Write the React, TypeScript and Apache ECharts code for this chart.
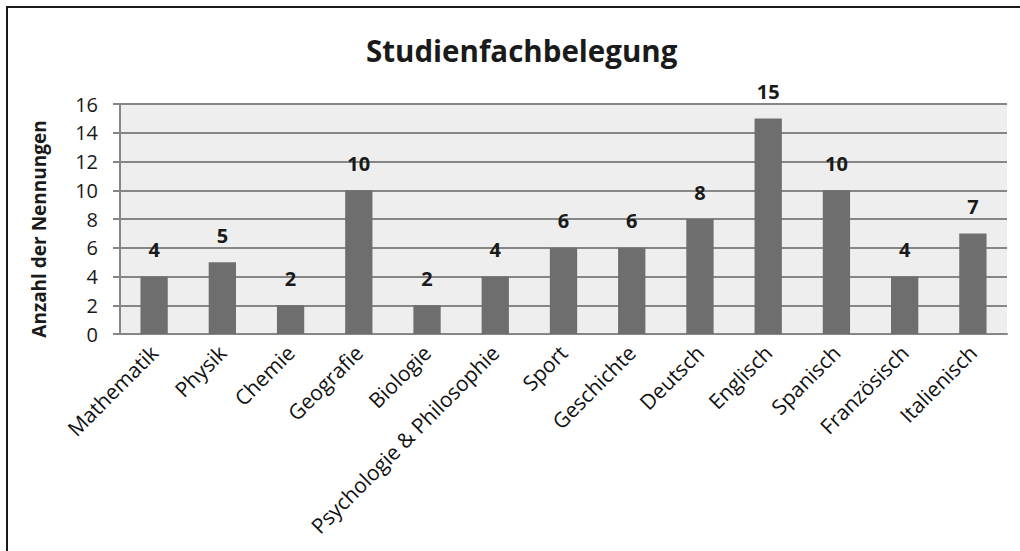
import React, { useEffect, useRef } from "react";
import * as echarts from "echarts";

const categories = [
  "Mathematik",
  "Physik",
  "Chemie",
  "Geografie",
  "Biologie",
  "Psychologie & Philosophie",
  "Sport",
  "Geschichte",
  "Deutsch",
  "Englisch",
  "Spanisch",
  "Französisch",
  "Italienisch",
];
const values = [4, 5, 2, 10, 2, 4, 6, 6, 8, 15, 10, 4, 7];
const yMin = 0;
const yMax = 16;
const yInterval = 2;
const title = "Studienfachbelegung";
const yName = "Anzahl der Nennungen";

const FONT = "'Open Sans', sans-serif";

export default function App() {
  const ref = useRef<HTMLDivElement>(null);
  useEffect(() => {
    if (!ref.current) return;
    const chart = echarts.init(ref.current, null, { renderer: "svg" });
    chart.setOption({
      animation: false,
      backgroundColor: "#ffffff",
      title: {
        text: title,
        left: 361,
        top: 30,
        textStyle: { fontFamily: FONT, fontSize: 29.5, fontWeight: "bold", color: "#1a1a1a" },
      },
      graphic: [
        {
          type: "rect",
          shape: { x: 7, y: 7, width: 1100, height: 700 },
          style: { fill: "none", stroke: "#1a1a1a", lineWidth: 2 },
          silent: true,
        },
        {
          type: "text",
          x: 39,
          y: 229,
          rotation: Math.PI / 2,
          style: {
            text: yName,
            fontFamily: FONT,
            fontSize: 19,
            fontWeight: "bold",
            fill: "#1a1a1a",
            textAlign: "center",
            textVerticalAlign: "middle",
          },
          silent: true,
        },
      ],
      grid: {
        left: 120,
        top: 104,
        right: 13,
        bottom: 217,
        show: true,
        backgroundColor: "#eeeeee",
        borderWidth: 0,
      },
      xAxis: {
        type: "category",
        data: categories,
        axisLine: { show: true, lineStyle: { color: "#868686", width: 2 } },
        axisTick: { show: false },
        axisLabel: {
          rotate: 45,
          interval: 0,
          margin: 15,
          fontFamily: FONT,
          fontSize: 21,
          color: "#111111",
        },
      },
      yAxis: {
        type: "value",
        min: yMin,
        max: yMax,
        interval: yInterval,
        axisLine: { show: true, lineStyle: { color: "#868686", width: 2 } },
        axisTick: { show: true, length: 7, lineStyle: { color: "#868686", width: 2 } },
        axisLabel: { fontFamily: FONT, fontSize: 20, color: "#1a1a1a", margin: 22 },
        splitLine: { show: true, lineStyle: { color: "#868686", width: 2 } },
      },
      series: [
        {
          type: "bar",
          data: values,
          barWidth: "40%",
          itemStyle: { color: "#6e6e6e" },
          label: {
            show: true,
            position: "top",
            distance: 17,
            fontFamily: FONT,
            fontSize: 20,
            fontWeight: "bold",
            color: "#1a1a1a",
          },
        },
      ],
    });
    return () => chart.dispose();
  }, []);
  return (
    <div
      ref={ref}
      style={{ position: "fixed", left: 0, top: 0, width: 1020, height: 551 }}
    />
  );
}
